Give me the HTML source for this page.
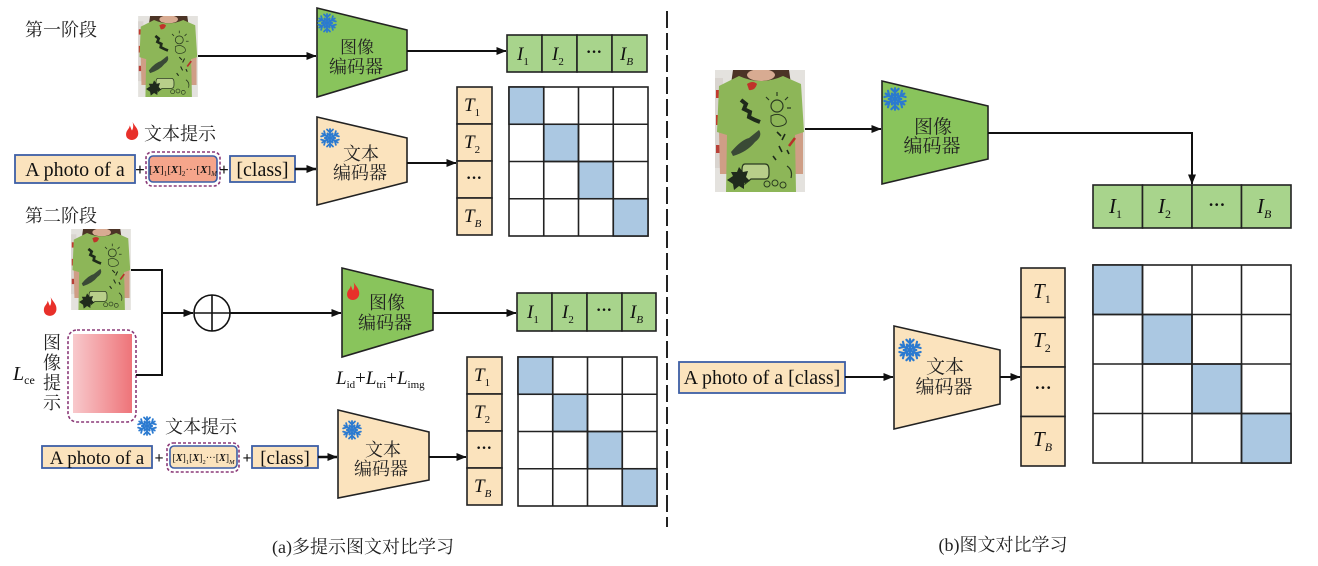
<!DOCTYPE html>
<html><head><meta charset="utf-8"><style>
html,body{margin:0;padding:0;background:#fff;}
svg{display:block;}
.cn{font-family:"Liberation Serif","Noto Serif CJK SC","Noto Sans CJK SC",serif;}
.ser{font-family:"Liberation Serif",serif;}
</style></head><body>
<svg width="1318" height="566" viewBox="0 0 1318 566" xmlns="http://www.w3.org/2000/svg">
<defs>
<marker id="ah" markerWidth="10" markerHeight="8" refX="9.5" refY="4" orient="auto" markerUnits="userSpaceOnUse"><path d="M0,0 L10,4 L0,8 Z" fill="#111"/></marker>
<linearGradient id="pg" x1="0" y1="0" x2="1" y2="0"><stop offset="0" stop-color="#f8c9cc"/><stop offset="1" stop-color="#ee7479"/></linearGradient>
<symbol id="shirt" viewBox="0 0 90 122">
<rect x="0" y="0" width="90" height="122" fill="#e4e2de"/>
<rect x="0" y="8" width="8" height="90" fill="#d9d4cf"/>
<rect x="1" y="20" width="5" height="8" fill="#c23a30"/><rect x="1" y="45" width="5" height="10" fill="#c23a30"/><rect x="1" y="75" width="5" height="8" fill="#b84038"/>
<path d="M18,0 L74,0 L76,14 L66,10 Q46,16 26,10 L16,14 Z" fill="#4c3426"/>
<ellipse cx="46" cy="5" rx="14" ry="6" fill="#d8ab92"/>
<path d="M4,62 L12,64 L12,104 L5,104 Z" fill="#cf9e86"/>
<path d="M88,62 L80,64 L80,104 L88,104 Z" fill="#cf9e86"/>
<path d="M4,16 L24,6 Q46,16 68,6 L86,14 L89,62 L80,65 L81,122 L11,122 L12,65 L2,62 Z" fill="#8db658"/>
<path d="M32,14 q6,-4 10,0 q-2,7 -8,6 z" fill="#c0332a"/>
<path d="M26,30 l5,4 l-2,5 l6,3 l-1,5 l6,3 l5,2" stroke="#1e2a1a" stroke-width="4" fill="none"/>
<circle cx="62" cy="36" r="6" fill="none" stroke="#2a3a20" stroke-width="1.2"/>
<path d="M62,26 v-4 M70,30 l3,-3 M72,38 h4 M54,30 l-3,-3" stroke="#2a3a20" stroke-width="1.2"/>
<path d="M56,46 q8,-4 14,2 q4,6 -4,8 q-8,2 -10,-4z" fill="none" stroke="#2a3a20" stroke-width="1"/>
<path d="M16,82 q10,-12 18,-14 l10,-8 q4,6 -4,12 q-8,10 -22,14z" fill="#3a4a36"/>
<path d="M30,94 h20 q4,0 4,6 v4 q0,5 -4,5 h-14 l-6,5 l1,-5 q-4,0 -4,-5 v-4 q0,-6 3,-6z" fill="#b8cf8a" stroke="#2a3a20" stroke-width="1.2"/>
<path d="M12,110 l6,-4 l-2,-4 l6,0 l2,-5 l4,5 l5,-1 l-2,6 l4,4 l-6,2 l0,6 l-5,-3 l-5,4 l-1,-6z" fill="#1f2a1c"/>
<circle cx="52" cy="114" r="3" fill="none" stroke="#2a3a20"/><circle cx="60" cy="113" r="3" fill="none" stroke="#2a3a20"/><circle cx="68" cy="115" r="3" fill="none" stroke="#2a3a20"/>
<path d="M62,62 l4,4 M70,64 l-3,6 M64,76 l3,6 M72,80 l2,4 M58,86 l3,4" stroke="#1e2a1a" stroke-width="1.6"/>
<path d="M74,76 l6,-8" stroke="#b8302a" stroke-width="2.5"/>
<path d="M72,96 q6,4 4,12" stroke="#2a3a20" stroke-width="1.2" fill="none"/>
</symbol>
<symbol id="snow" viewBox="-10 -10 20 20">
<g stroke="#2b7ad0" stroke-width="1.8" stroke-linecap="round" fill="none">
<g><line x1="0" y1="0" x2="0" y2="-9"/><polyline points="-3,-8.5 0,-5.5 3,-8.5"/><polyline points="-2.5,-4.5 0,-2.5 2.5,-4.5"/></g>
<g transform="rotate(60)"><line x1="0" y1="0" x2="0" y2="-9"/><polyline points="-3,-8.5 0,-5.5 3,-8.5"/><polyline points="-2.5,-4.5 0,-2.5 2.5,-4.5"/></g>
<g transform="rotate(120)"><line x1="0" y1="0" x2="0" y2="-9"/><polyline points="-3,-8.5 0,-5.5 3,-8.5"/><polyline points="-2.5,-4.5 0,-2.5 2.5,-4.5"/></g>
<g transform="rotate(180)"><line x1="0" y1="0" x2="0" y2="-9"/><polyline points="-3,-8.5 0,-5.5 3,-8.5"/><polyline points="-2.5,-4.5 0,-2.5 2.5,-4.5"/></g>
<g transform="rotate(240)"><line x1="0" y1="0" x2="0" y2="-9"/><polyline points="-3,-8.5 0,-5.5 3,-8.5"/><polyline points="-2.5,-4.5 0,-2.5 2.5,-4.5"/></g>
<g transform="rotate(300)"><line x1="0" y1="0" x2="0" y2="-9"/><polyline points="-3,-8.5 0,-5.5 3,-8.5"/><polyline points="-2.5,-4.5 0,-2.5 2.5,-4.5"/></g>
</g>
</symbol>
<symbol id="flame" viewBox="0 0 12 16">
<path d="M6.5,0 C8.5,4 12,6 11.5,11 C11,14.5 8,16 6,16 C3,16 0.2,14 0.8,10 C1.2,7 3.8,6 4,3 C5,5 5.2,6.5 6,7.5 C7.2,5.5 7.4,3 6.5,0 Z" fill="#e8302a"/>
</symbol>
</defs>

<!-- ================= (a) ================= -->
<text class="cn" x="25" y="36" font-size="18" fill="#222">第一阶段</text>
<use href="#shirt" x="138" y="16" width="60" height="81"/>
<line x1="198" y1="56" x2="316" y2="56" stroke="#111" stroke-width="2" marker-end="url(#ah)"/>

<polygon points="317,8 407,30 407,70 317,97" fill="#89c45c" stroke="#222" stroke-width="1.6"/>
<use href="#snow" x="317" y="13" width="20" height="20"/>
<text class="cn" x="357" y="53" font-size="17" text-anchor="middle" fill="#222">图像</text>
<text class="cn" x="356" y="73" font-size="18" text-anchor="middle" fill="#222">编码器</text>
<line x1="407" y1="51" x2="506" y2="51" stroke="#111" stroke-width="2" marker-end="url(#ah)"/>

<g stroke="#222" stroke-width="1.6" fill="#a8d48c">
<rect x="507" y="35" width="35" height="37"/><rect x="542" y="35" width="35" height="37"/><rect x="577" y="35" width="35" height="37"/><rect x="612" y="35" width="35" height="37"/>
</g>
<g class="ser" font-size="19" fill="#111">
<text x="517" y="60" font-style="italic">I<tspan font-size="11" font-style="normal" dy="5">1</tspan></text>
<text x="552" y="60" font-style="italic">I<tspan font-size="11" font-style="normal" dy="5">2</tspan></text>
<text x="594" y="57" text-anchor="middle" font-weight="bold" font-size="16">···</text>
<text x="620" y="60" font-style="italic">I<tspan font-size="11" dy="5">B</tspan></text>
</g>

<g stroke="#222" stroke-width="1.6" fill="#fbe3bd">
<rect x="457" y="87" width="35" height="37"/><rect x="457" y="124" width="35" height="37"/><rect x="457" y="161" width="35" height="37"/><rect x="457" y="198" width="35" height="37"/>
</g>
<g class="ser" font-size="19" fill="#111">
<text x="464" y="111" font-style="italic">T<tspan font-size="11" font-style="normal" dy="5">1</tspan></text>
<text x="464" y="148" font-style="italic">T<tspan font-size="11" font-style="normal" dy="5">2</tspan></text>
<text x="474" y="183" text-anchor="middle" font-weight="bold" font-size="16">···</text>
<text x="464" y="222" font-style="italic">T<tspan font-size="11" dy="5">B</tspan></text>
</g>

<g stroke="#222" stroke-width="1.6" fill="#fff">
<rect x="509" y="87" width="139" height="149"/>
<rect x="509" y="87" width="34.75" height="37.25" fill="#abc8e2"/>
<rect x="543.75" y="124.25" width="34.75" height="37.25" fill="#abc8e2"/>
<rect x="578.5" y="161.5" width="34.75" height="37.25" fill="#abc8e2"/>
<rect x="613.25" y="198.75" width="34.75" height="37.25" fill="#abc8e2"/>
<line x1="543.75" y1="87" x2="543.75" y2="236"/><line x1="578.5" y1="87" x2="578.5" y2="236"/><line x1="613.25" y1="87" x2="613.25" y2="236"/>
<line x1="509" y1="124.25" x2="648" y2="124.25"/><line x1="509" y1="161.5" x2="648" y2="161.5"/><line x1="509" y1="198.75" x2="648" y2="198.75"/>
</g>

<use href="#flame" x="125" y="122" width="14" height="18"/>
<text class="cn" x="144" y="140" font-size="18" fill="#222">文本提示</text>
<rect x="15" y="155" width="120" height="28" fill="#fbe3bd" stroke="#3d5fa6" stroke-width="1.8"/>
<text class="ser" x="75" y="176" font-size="20" text-anchor="middle" fill="#111">A photo of a</text>
<text class="ser" x="140" y="175" font-size="17" font-weight="bold" text-anchor="middle" fill="#111">+</text>
<rect x="146" y="152" width="74" height="34" rx="6" fill="none" stroke="#8b3a78" stroke-width="1.6" stroke-dasharray="3,2"/>
<rect x="149" y="156" width="68" height="26" rx="4" fill="#f5a58b" stroke="#3d5fa6" stroke-width="1.6"/>
<text class="ser" x="183" y="173" font-size="11" text-anchor="middle" fill="#111">[<tspan font-weight="bold" font-style="italic">X</tspan>]<tspan font-size="7" dy="3">1</tspan><tspan dy="-3">[</tspan><tspan font-weight="bold" font-style="italic">X</tspan>]<tspan font-size="7" dy="3">2</tspan><tspan dy="-3">···[</tspan><tspan font-weight="bold" font-style="italic">X</tspan>]<tspan font-size="7" font-style="italic" dy="3">M</tspan></text>
<text class="ser" x="224" y="175" font-size="17" font-weight="bold" text-anchor="middle" fill="#111">+</text>
<rect x="230" y="156" width="65" height="26" fill="#fbe3bd" stroke="#3d5fa6" stroke-width="1.8"/>
<text class="ser" x="262.5" y="176" font-size="20" text-anchor="middle" fill="#111">[class]</text>
<line x1="295" y1="169" x2="316" y2="169" stroke="#111" stroke-width="2.4" marker-end="url(#ah)"/>

<polygon points="317,117 407,138 407,182 317,205" fill="#fbe3bd" stroke="#222" stroke-width="1.6"/>
<use href="#snow" x="320" y="128" width="20" height="20"/>
<text class="cn" x="361" y="160" font-size="18" text-anchor="middle" fill="#222">文本</text>
<text class="cn" x="360" y="179" font-size="18" text-anchor="middle" fill="#222">编码器</text>
<line x1="407" y1="163" x2="456" y2="163" stroke="#111" stroke-width="2" marker-end="url(#ah)"/>

<!-- stage 2 -->
<text class="cn" x="25" y="222" font-size="18" fill="#222">第二阶段</text>
<use href="#shirt" x="71" y="229" width="60" height="81"/>
<use href="#flame" x="43" y="297" width="14" height="19"/>
<rect x="68" y="330" width="68" height="92" rx="9" fill="none" stroke="#8b3a78" stroke-width="1.6" stroke-dasharray="3,2"/>
<rect x="73" y="334" width="59" height="79" fill="url(#pg)"/>
<g class="cn" font-size="18" fill="#222" text-anchor="middle">
<text x="52" y="349">图</text><text x="52" y="369">像</text><text x="52" y="389">提</text><text x="52" y="409">示</text>
</g>
<text class="ser" x="13" y="380" font-size="20" font-style="italic" fill="#111">L<tspan font-size="12" font-style="normal" dy="4">ce</tspan></text>
<polyline points="131,270 162,270 162,375 136,375" fill="none" stroke="#111" stroke-width="2"/>
<line x1="162" y1="313" x2="193" y2="313" stroke="#111" stroke-width="2" marker-end="url(#ah)"/>
<circle cx="212" cy="313" r="18" fill="#fff" stroke="#111" stroke-width="1.6"/>
<line x1="194" y1="313" x2="230" y2="313" stroke="#111" stroke-width="1.6"/>
<line x1="212" y1="295" x2="212" y2="331" stroke="#111" stroke-width="1.6"/>
<line x1="230" y1="313" x2="341" y2="313" stroke="#111" stroke-width="2" marker-end="url(#ah)"/>

<polygon points="342,268 433,290 433,330 342,357" fill="#89c45c" stroke="#222" stroke-width="1.6"/>
<use href="#flame" x="346" y="282" width="14" height="18"/>
<text class="cn" x="387" y="309" font-size="18" text-anchor="middle" fill="#222">图像</text>
<text class="cn" x="385" y="329" font-size="18" text-anchor="middle" fill="#222">编码器</text>
<line x1="433" y1="313" x2="516" y2="313" stroke="#111" stroke-width="2" marker-end="url(#ah)"/>

<g stroke="#222" stroke-width="1.6" fill="#a8d48c">
<rect x="517" y="293" width="35" height="38"/><rect x="552" y="293" width="35" height="38"/><rect x="587" y="293" width="35" height="38"/><rect x="622" y="293" width="34" height="38"/>
</g>
<g class="ser" font-size="19" fill="#111">
<text x="527" y="318" font-style="italic">I<tspan font-size="11" font-style="normal" dy="5">1</tspan></text>
<text x="562" y="318" font-style="italic">I<tspan font-size="11" font-style="normal" dy="5">2</tspan></text>
<text x="604" y="315" text-anchor="middle" font-weight="bold" font-size="16">···</text>
<text x="630" y="318" font-style="italic">I<tspan font-size="11" dy="5">B</tspan></text>
</g>
<text class="ser" x="336" y="384" font-size="19" font-style="italic" fill="#111">L<tspan font-size="11" font-style="normal" dy="4">id</tspan><tspan font-style="normal" dy="-4">+</tspan>L<tspan font-size="11" font-style="normal" dy="4">tri</tspan><tspan font-style="normal" dy="-4">+</tspan>L<tspan font-size="11" font-style="normal" dy="4">img</tspan></text>

<g stroke="#222" stroke-width="1.6" fill="#fbe3bd">
<rect x="467" y="357" width="35" height="37"/><rect x="467" y="394" width="35" height="37"/><rect x="467" y="431" width="35" height="37"/><rect x="467" y="468" width="35" height="37"/>
</g>
<g class="ser" font-size="19" fill="#111">
<text x="474" y="381" font-style="italic">T<tspan font-size="11" font-style="normal" dy="5">1</tspan></text>
<text x="474" y="418" font-style="italic">T<tspan font-size="11" font-style="normal" dy="5">2</tspan></text>
<text x="484" y="453" text-anchor="middle" font-weight="bold" font-size="16">···</text>
<text x="474" y="492" font-style="italic">T<tspan font-size="11" dy="5">B</tspan></text>
</g>

<g stroke="#222" stroke-width="1.6" fill="#fff">
<rect x="518" y="357" width="139" height="149"/>
<rect x="518" y="357" width="34.75" height="37.25" fill="#abc8e2"/>
<rect x="552.75" y="394.25" width="34.75" height="37.25" fill="#abc8e2"/>
<rect x="587.5" y="431.5" width="34.75" height="37.25" fill="#abc8e2"/>
<rect x="622.25" y="468.75" width="34.75" height="37.25" fill="#abc8e2"/>
<line x1="552.75" y1="357" x2="552.75" y2="506"/><line x1="587.5" y1="357" x2="587.5" y2="506"/><line x1="622.25" y1="357" x2="622.25" y2="506"/>
<line x1="518" y1="394.25" x2="657" y2="394.25"/><line x1="518" y1="431.5" x2="657" y2="431.5"/><line x1="518" y1="468.75" x2="657" y2="468.75"/>
</g>

<use href="#snow" x="137" y="416" width="20" height="20"/>
<text class="cn" x="165" y="433" font-size="18" fill="#222">文本提示</text>
<rect x="42" y="446" width="110" height="22" fill="#fbe3bd" stroke="#3d5fa6" stroke-width="1.8"/>
<text class="ser" x="97" y="464" font-size="19" text-anchor="middle" fill="#111">A photo of a</text>
<text class="ser" x="159" y="463" font-size="16" font-weight="bold" text-anchor="middle" fill="#111">+</text>
<rect x="167" y="443" width="72" height="29" rx="6" fill="none" stroke="#8b3a78" stroke-width="1.6" stroke-dasharray="3,2"/>
<rect x="170" y="446" width="67" height="22" rx="4" fill="#fbe3bd" stroke="#3d5fa6" stroke-width="1.6"/>
<text class="ser" x="203.5" y="461" font-size="10" text-anchor="middle" fill="#111">[<tspan font-weight="bold" font-style="italic">X</tspan>]<tspan font-size="6.5" dy="3">1</tspan><tspan dy="-3">[</tspan><tspan font-weight="bold" font-style="italic">X</tspan>]<tspan font-size="6.5" dy="3">2</tspan><tspan dy="-3">···[</tspan><tspan font-weight="bold" font-style="italic">X</tspan>]<tspan font-size="6.5" font-style="italic" dy="3">M</tspan></text>
<text class="ser" x="247" y="463" font-size="16" font-weight="bold" text-anchor="middle" fill="#111">+</text>
<rect x="252" y="446" width="66" height="22" fill="#fbe3bd" stroke="#3d5fa6" stroke-width="1.8"/>
<text class="ser" x="285" y="464" font-size="19" text-anchor="middle" fill="#111">[class]</text>
<line x1="318" y1="457" x2="337" y2="457" stroke="#111" stroke-width="2.4" marker-end="url(#ah)"/>

<polygon points="338,410 429,432 429,480 338,498" fill="#fbe3bd" stroke="#222" stroke-width="1.6"/>
<use href="#snow" x="342" y="420" width="20" height="20"/>
<text class="cn" x="383" y="456" font-size="18" text-anchor="middle" fill="#222">文本</text>
<text class="cn" x="381" y="475" font-size="18" text-anchor="middle" fill="#222">编码器</text>
<line x1="429" y1="457" x2="466" y2="457" stroke="#111" stroke-width="2" marker-end="url(#ah)"/>

<text class="cn" x="363" y="553" font-size="18" text-anchor="middle" fill="#222">(a)多提示图文对比学习</text>

<!-- divider -->
<line x1="667" y1="11" x2="667" y2="527" stroke="#222" stroke-width="2" stroke-dasharray="17,5"/>

<!-- ================= (b) ================= -->
<use href="#shirt" x="715" y="70" width="90" height="122"/>
<line x1="805" y1="129" x2="881" y2="129" stroke="#111" stroke-width="2" marker-end="url(#ah)"/>
<polygon points="882,81 988,106 988,159 882,184" fill="#89c45c" stroke="#222" stroke-width="1.6"/>
<use href="#snow" x="883" y="87" width="24" height="24"/>
<text class="cn" x="933" y="133" font-size="19" text-anchor="middle" fill="#222">图像</text>
<text class="cn" x="932" y="152" font-size="19" text-anchor="middle" fill="#222">编码器</text>
<polyline points="988,133 1192,133 1192,184" fill="none" stroke="#111" stroke-width="2" marker-end="url(#ah)"/>

<g stroke="#222" stroke-width="1.6" fill="#a8d48c">
<rect x="1093" y="185" width="49.5" height="43"/><rect x="1142.5" y="185" width="49.5" height="43"/><rect x="1192" y="185" width="49.5" height="43"/><rect x="1241.5" y="185" width="49.5" height="43"/>
</g>
<g class="ser" font-size="21" fill="#111">
<text x="1109" y="213" font-style="italic">I<tspan font-size="12" font-style="normal" dy="5">1</tspan></text>
<text x="1158" y="213" font-style="italic">I<tspan font-size="12" font-style="normal" dy="5">2</tspan></text>
<text x="1216.75" y="210" text-anchor="middle" font-weight="bold" font-size="17">···</text>
<text x="1257" y="213" font-style="italic">I<tspan font-size="12" dy="5">B</tspan></text>
</g>

<g stroke="#222" stroke-width="1.6" fill="#fbe3bd">
<rect x="1021" y="268" width="44" height="49.5"/><rect x="1021" y="317.5" width="44" height="49.5"/><rect x="1021" y="367" width="44" height="49.5"/><rect x="1021" y="416.5" width="44" height="49.5"/>
</g>
<g class="ser" font-size="21" fill="#111">
<text x="1033" y="298" font-style="italic">T<tspan font-size="12" font-style="normal" dy="5">1</tspan></text>
<text x="1033" y="347" font-style="italic">T<tspan font-size="12" font-style="normal" dy="5">2</tspan></text>
<text x="1043" y="393" text-anchor="middle" font-weight="bold" font-size="17">···</text>
<text x="1033" y="446" font-style="italic">T<tspan font-size="12" dy="5">B</tspan></text>
</g>

<g stroke="#222" stroke-width="1.6" fill="#fff">
<rect x="1093" y="265" width="198" height="198"/>
<rect x="1093" y="265" width="49.5" height="49.5" fill="#abc8e2"/>
<rect x="1142.5" y="314.5" width="49.5" height="49.5" fill="#abc8e2"/>
<rect x="1192" y="364" width="49.5" height="49.5" fill="#abc8e2"/>
<rect x="1241.5" y="413.5" width="49.5" height="49.5" fill="#abc8e2"/>
<line x1="1142.5" y1="265" x2="1142.5" y2="463"/><line x1="1192" y1="265" x2="1192" y2="463"/><line x1="1241.5" y1="265" x2="1241.5" y2="463"/>
<line x1="1093" y1="314.5" x2="1291" y2="314.5"/><line x1="1093" y1="364" x2="1291" y2="364"/><line x1="1093" y1="413.5" x2="1291" y2="413.5"/>
</g>

<rect x="679" y="362" width="166" height="31" fill="#fbe3bd" stroke="#3d5fa6" stroke-width="1.8"/>
<text class="ser" x="762" y="384" font-size="20" text-anchor="middle" fill="#111">A photo of a [class]</text>
<line x1="845" y1="377" x2="893" y2="377" stroke="#111" stroke-width="2" marker-end="url(#ah)"/>
<polygon points="894,326 1000,350 1000,404 894,429" fill="#fbe3bd" stroke="#222" stroke-width="1.6"/>
<use href="#snow" x="898" y="338" width="24" height="24"/>
<text class="cn" x="945" y="373" font-size="19" text-anchor="middle" fill="#222">文本</text>
<text class="cn" x="944" y="393" font-size="19" text-anchor="middle" fill="#222">编码器</text>
<line x1="1000" y1="377" x2="1020" y2="377" stroke="#111" stroke-width="2" marker-end="url(#ah)"/>

<text class="cn" x="1003" y="551" font-size="18" text-anchor="middle" fill="#222">(b)图文对比学习</text>
</svg>
</body></html>
